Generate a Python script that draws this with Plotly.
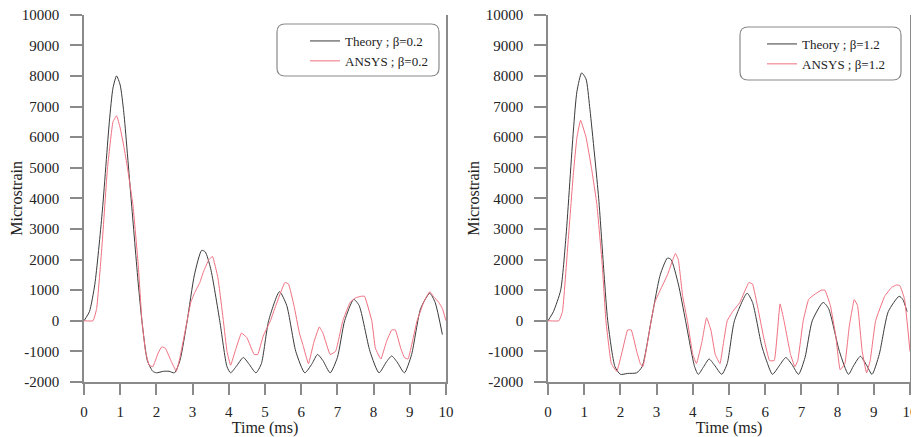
import plotly.graph_objects as go

# ---------------- data ----------------
t_theory_a = [0, 0.15, 0.3, 0.5, 0.7, 0.8, 0.9, 1.0, 1.1, 1.3, 1.5, 1.6, 1.75, 1.9, 2.0, 2.2, 2.35, 2.5, 2.65,
              2.85, 3.05, 3.25, 3.35, 3.5, 3.75, 3.95, 4.05, 4.2, 4.4, 4.55, 4.75, 4.9, 5.1, 5.4, 5.6, 5.85,
              6.1, 6.3, 6.45, 6.6, 6.8, 7.0, 7.2, 7.45, 7.6, 7.9, 8.15, 8.35, 8.5, 8.65, 8.85, 9.05, 9.3,
              9.55, 9.7, 9.9]
v_theory_a = [0, 300, 1200, 3500, 6500, 7600, 8000, 7700, 6800, 4000, 1200, 0, -1300, -1650, -1700, -1650,
              -1650, -1700, -1300, 0, 1500, 2300, 2250, 1700, 0, -1500, -1700, -1500, -1200, -1400, -1700,
              -1400, 0, 950, 500, -1000, -1700, -1400, -1100, -1300, -1700, -1200, 0, 700, 500, -1000,
              -1700, -1350, -1150, -1350, -1700, -1100, 400, 900, 600, -450]

t_ansys_a = [0, 0.25, 0.35, 0.5, 0.65, 0.8, 0.9, 1.0, 1.1, 1.2, 1.35, 1.5, 1.6, 1.7, 1.8, 1.9, 2.05, 2.15,
             2.25, 2.4, 2.55, 2.65, 2.8, 2.95, 3.05, 3.2, 3.3, 3.45, 3.55, 3.7, 3.85, 3.95, 4.05, 4.2, 4.35,
             4.5, 4.7, 4.8, 4.95, 5.15, 5.3, 5.55, 5.65, 5.8, 5.95, 6.05, 6.2, 6.35, 6.5, 6.6, 6.8, 6.95,
             7.15, 7.35, 7.5, 7.65, 7.75, 7.95, 8.05, 8.2, 8.35, 8.5, 8.6, 8.75, 8.85, 8.95, 9.2, 9.4,
             9.55, 9.65, 9.8, 9.9, 10]
v_ansys_a = [0, 0, 400, 2500, 5000, 6500, 6700, 6300, 5700, 5000, 3800, 1800, 0, -1000, -1450, -1500,
             -1050, -850, -900, -1300, -1650, -1200, -300, 600, 900, 1250, 1600, 2000, 2100, 1400, 0,
             -1000, -1450, -900, -400, -550, -1100, -1100, -500, 0, 500, 1250, 1200, 500, -400, -800,
             -1400, -700, -200, -400, -1100, -1000, 0, 600, 750, 800, 800, 0, -900, -1250, -700, -300,
             -300, -900, -1200, -1250, 0, 650, 950, 800, 600, 400, 0]

t_theory_b = [0, 0.15, 0.35, 0.5, 0.7, 0.8, 0.93, 1.05, 1.15, 1.4, 1.55, 1.65, 1.85, 2.0, 2.2, 2.45, 2.6,
              2.85, 3.1, 3.3, 3.4, 3.6, 3.8, 4.05, 4.15, 4.3, 4.45, 4.6, 4.8, 4.95, 5.15, 5.5, 5.65, 5.9,
              6.05, 6.2, 6.4, 6.57, 6.75, 6.92, 7.1, 7.3, 7.6, 7.75, 8.05, 8.3, 8.45, 8.63, 8.8, 8.95,
              9.15, 9.4, 9.7, 9.8, 9.92]
v_theory_b = [0, 300, 1000, 2800, 6200, 7500, 8100, 7900, 7000, 4000, 1500, 0, -1500, -1750, -1720,
              -1700, -1500, 0, 1500, 2050, 2000, 1200, 0, -1500, -1750, -1500, -1250, -1450, -1750,
              -1400, 0, 900, 600, -800, -1350, -1750, -1450, -1200, -1450, -1750, -1200, 0, 600, 400,
              -1000, -1750, -1450, -1160, -1450, -1750, -1100, 300, 800, 700, 300]

t_ansys_b = [0, 0.3, 0.4, 0.55, 0.7, 0.8, 0.9, 1.05, 1.2, 1.35, 1.5, 1.6, 1.75, 1.9, 2.05, 2.2, 2.3, 2.45,
             2.55, 2.62, 2.85, 2.95, 3.1, 3.3, 3.45, 3.52, 3.6, 3.72, 3.85, 4.0, 4.1, 4.25, 4.38, 4.5,
             4.62, 4.75, 4.85, 4.95, 5.1, 5.3, 5.55, 5.65, 5.8, 5.95, 6.12, 6.25, 6.41, 6.52, 6.7, 6.82,
             6.9, 7.05, 7.2, 7.35, 7.55, 7.65, 7.8, 7.95, 8.07, 8.2, 8.32, 8.46, 8.55, 8.68, 8.8, 8.9,
             9.05, 9.3, 9.5, 9.63, 9.72, 9.85, 10]
v_ansys_b = [0, 0, 300, 2500, 4800, 6000, 6550, 6000, 5000, 3800, 1800, 0, -1400, -1650, -1000, -300,
             -300, -1000, -1400, -1500, 0, 600, 1000, 1500, 2000, 2200, 2000, 800, 0, -1100, -1400, -700,
             100, -300, -1100, -1400, -700, 0, 300, 600, 1250, 1200, 400, -500, -1300, -1300, 550, 0,
             -1100, -1500, -1300, 0, 700, 850, 1000, 1000, 500, -500, -1600, -1400, -200, 690, 500,
             -1000, -1700, -1300, 0, 800, 1100, 1170, 1150, 700, -1000]

x_ticks = [0, 1, 2, 3, 4, 5, 6, 7, 8, 9, 10]
x_ticktext = ["0", "1", "2", "3", "4", "5", "6", "7", "8", "9", "10"]
y_ticks = [-2000, -1000, 0, 1000, 2000, 3000, 4000, 5000, 6000, 7000, 8000, 9000, 10000]
y_ticktext = ["-2000", "-1000", "0", "1000", "2000", "3000", "4000", "5000", "6000", "7000", "8000",
              "9000", "10000"]
names_a = ["Theory ; β=0.2", "ANSYS ; β=0.2"]
names_b = ["Theory ; β=1.2", "ANSYS ; β=1.2"]

# ---------------- styling ----------------
# The page body has an 8px default margin, so the figure is 8px smaller and
# all pixel positions (measured on the 919x437 screenshot) are offset by 8.
OFF = 8
W, H = 919 - OFF, 437 - OFF
BLACK = "#3a3a3a"
RED = "#f07080"
AXIS = "#8a8a8a"
FONT = "Liberation Serif"

fig = go.Figure()
fig.add_trace(go.Scatter(x=t_theory_a, y=v_theory_a, name=names_a[0], mode="lines",
                         line=dict(color=BLACK, width=1, shape="spline", smoothing=0.6),
                         xaxis="x", yaxis="y", legend="legend"))
fig.add_trace(go.Scatter(x=t_ansys_a, y=v_ansys_a, name=names_a[1], mode="lines",
                         line=dict(color=RED, width=1, shape="spline", smoothing=0.3),
                         xaxis="x", yaxis="y", legend="legend"))
fig.add_trace(go.Scatter(x=t_theory_b, y=v_theory_b, name=names_b[0], mode="lines",
                         line=dict(color=BLACK, width=1, shape="spline", smoothing=0.6),
                         xaxis="x2", yaxis="y2", legend="legend2"))
fig.add_trace(go.Scatter(x=t_ansys_b, y=v_ansys_b, name=names_b[1], mode="lines",
                         line=dict(color=RED, width=1, shape="spline", smoothing=0.3),
                         xaxis="x2", yaxis="y2", legend="legend2"))

def px_x(p):
    return (p - OFF) / W

def px_y(p):
    return 1 - (p - OFF) / H

ydom = [px_y(382), px_y(14.7)]
xdom1 = [px_x(84), px_x(446)]
xdom2 = [px_x(548), px_x(910)]

common_x = dict(range=[0, 10], tickvals=x_ticks, ticktext=x_ticktext, ticks="outside", ticklen=11,
                tickwidth=1.5, tickcolor=AXIS, showline=True, linecolor=AXIS, linewidth=1.5,
                showgrid=False, zeroline=False, tickfont=dict(family=FONT, size=15, color="#222"),
                ticklabeloverflow="allow", ticklabelstandoff=4,
                title=dict(text="Time (ms)", font=dict(family=FONT, size=16, color="#222"), standoff=1),
                automargin=False)
common_y = dict(range=[-2000, 10000], tickvals=y_ticks, ticktext=y_ticktext, ticks="outside", ticklen=12,
                tickwidth=1.5, tickcolor=AXIS, showline=True, linecolor=AXIS, linewidth=1.5, mirror=True,
                showgrid=False, zeroline=False, tickfont=dict(family=FONT, size=15, color="#222"),
                ticklabeloverflow="allow", ticklabelstandoff=8,
                title=dict(text="Microstrain", font=dict(family=FONT, size=16, color="#222"), standoff=2),
                automargin=False)

legend_common = dict(font=dict(family=FONT, size=13, color="#222"), bgcolor="rgba(0,0,0,0)",
                     borderwidth=0, xanchor="left", yanchor="top", tracegroupgap=0)

def rounded_rect(x0, y0, x1, y1, r):
    X = lambda p: px_x(p)
    Y = lambda p: px_y(p)
    return (f"M {X(x0 + r)},{Y(y0)} L {X(x1 - r)},{Y(y0)} Q {X(x1)},{Y(y0)} {X(x1)},{Y(y0 + r)} "
            f"L {X(x1)},{Y(y1 - r)} Q {X(x1)},{Y(y1)} {X(x1 - r)},{Y(y1)} "
            f"L {X(x0 + r)},{Y(y1)} Q {X(x0)},{Y(y1)} {X(x0)},{Y(y1 - r)} "
            f"L {X(x0)},{Y(y0 + r)} Q {X(x0)},{Y(y0)} {X(x0 + r)},{Y(y0)} Z")

fig.update_layout(
    width=W, height=H,
    margin=dict(l=0, r=0, t=0, b=0),
    paper_bgcolor="white", plot_bgcolor="white",
    template="none",
    xaxis=dict(domain=xdom1, anchor="y", **common_x),
    yaxis=dict(domain=ydom, anchor="x", **common_y),
    xaxis2=dict(domain=xdom2, anchor="y2", **common_x),
    yaxis2=dict(domain=ydom, anchor="x2", **common_y),
    legend=dict(x=px_x(305), y=px_y(26), **legend_common),
    legend2=dict(x=px_x(762), y=px_y(29), **legend_common),
    shapes=[
        dict(type="path", xref="paper", yref="paper", path=rounded_rect(277, 24, 439, 76, 8),
             line=dict(color="#8a8a8a", width=1.2)),
        dict(type="path", xref="paper", yref="paper", path=rounded_rect(740, 27, 901, 80, 8),
             line=dict(color="#8a8a8a", width=1.2)),
    ],
)

fig.write_html("out.html")
